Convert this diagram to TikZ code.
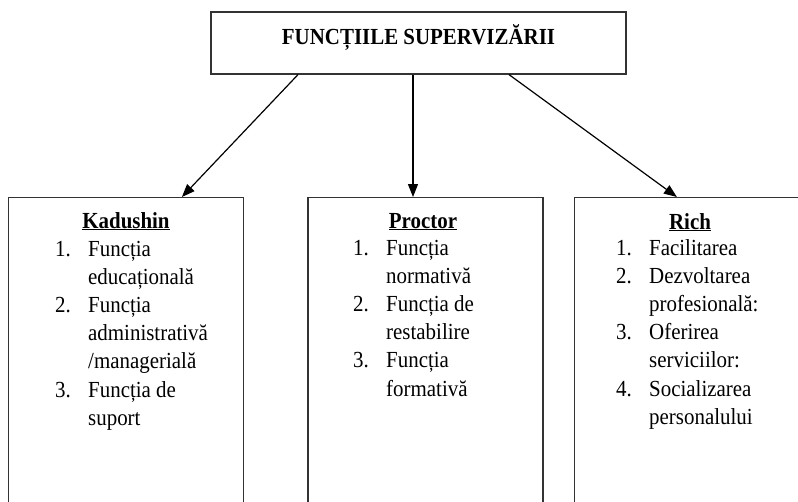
\documentclass[tikz,border=0pt]{standalone}
\usepackage{fontspec}
\setmainfont{Liberation Serif}[FakeStretch=0.91]
\usepackage{xcolor}
\usetikzlibrary{arrows.meta}

\newcommand{\funclist}[1]{\begin{tabular}[t]{@{}p{33pt}@{}l@{}}#1\end{tabular}}

\begin{document}
\begin{tikzpicture}[
    x=1pt, y=-1pt,
    % GLOBAL CFG
    font=\fontsize{23}{28.2}\selectfont,
    >={Triangle[length=13pt,width=10pt]},
    % Styles
    mainbox/.style={% For the top box
        rectangle,
        draw=black!80,
        line width=1.2pt,
        minimum width=415pt,
        minimum height=62pt,
        },
    authorbox/.style={% For the three boxes below
        rectangle,
        draw=black!80,
        line width=1.2pt,
        minimum width=235pt,
        minimum height=330pt,
        anchor=north,
        },
    heading/.style={% Bold titles
        font=\fontsize{23}{28.2}\selectfont\bfseries,
        anchor=base,
        inner sep=0pt,
        },
    listing/.style={% The numbered lists
        anchor=base west,
        inner sep=0pt,
        },
    ArrowC1/.style={% Arrows
        ->,
        line width=1.2pt,
        },
    ]

    \useasboundingbox (0,0) rectangle (798,501);
    \clip (0,0) rectangle (798,501);

    % Top box
    \node [mainbox] (sup) at (418.5,43) {};
    \node [heading] (suptitle) at (418.5,44) {FUNCȚIILE SUPERVIZĂRII};

    % The three boxes
    \node [authorbox] (kad) at (126,197) {};
    \node [authorbox] (proc) at (425.5,197) {};
    \node [authorbox] (rich) at (692,197) {};

    \node [heading] (kadtitle) at (126,228) {\underline{Kadushin}};
    \node [heading] (proctitle) at (423,228) {\underline{Proctor}};
    \node [heading] (richtitle) at (690,229) {\underline{Rich}};

    \node [listing] (kadlist) at (55,256) {\funclist{%
        1. & Funcția\\
           & educațională\\
        2. & Funcția\\
           & administrativă\\
           & /managerială\\
        3. & Funcția de\\
           & suport}};
    \node [listing] (proclist) at (353,255) {\funclist{%
        1. & Funcția\\
           & normativă\\
        2. & Funcția de\\
           & restabilire\\
        3. & Funcția\\
           & formativă}};
    \node [listing] (richlist) at (616,255) {\funclist{%
        1. & Facilitarea\\
        2. & Dezvoltarea\\
           & profesională:\\
        3. & Oferirea\\
           & serviciilor:\\
        4. & Socializarea\\
           & personalului}};

    % Arrows
    \draw [ArrowC1] ([xshift=-120.5pt]sup.south) -- ([xshift=174pt]kad.north west);
    \draw [ArrowC1] ([xshift=-5.5pt]sup.south) -- ([xshift=-12.5pt]proc.north);
    \draw [ArrowC1] ([xshift=90.5pt]sup.south) -- ([xshift=103pt]rich.north west);
\end{tikzpicture}
\end{document}
